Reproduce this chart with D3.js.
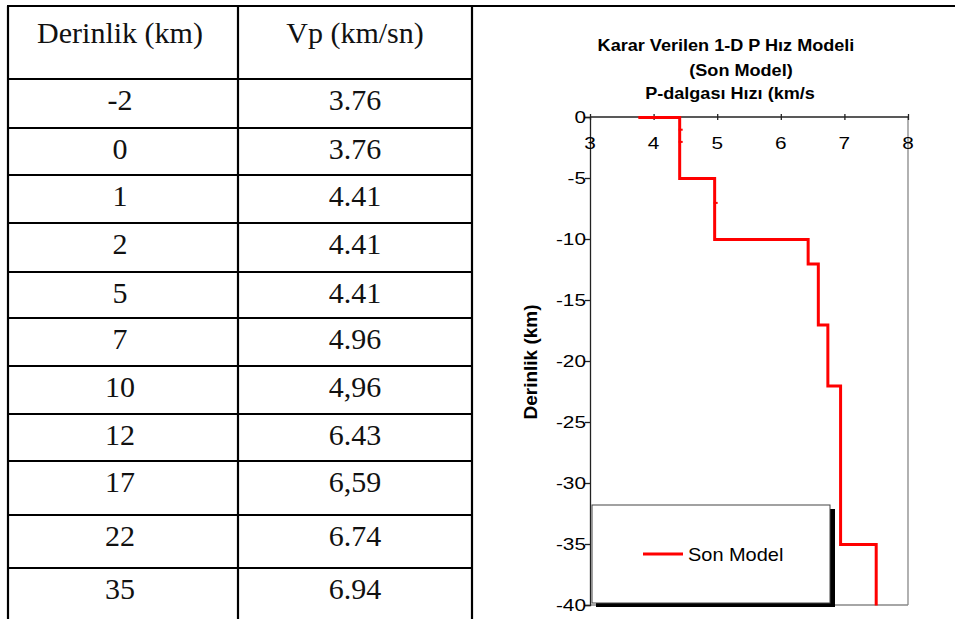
<!DOCTYPE html>
<html>
<head>
<meta charset="utf-8">
<script src="https://cdn.jsdelivr.net/npm/d3@7"></script>
<style>
  html, body { margin: 0; padding: 0; background: #fff; }
  svg { display: block; }
</style>
</head>
<body>
<svg id="chart" width="955" height="619"></svg>
<script>
// ---------------- data ----------------
const tableHeaders = ["Derinlik (km)", "Vp (km/sn)"];
const tableDepth = ["-2", "0", "1", "2", "5", "7", "10", "12", "17", "22", "35"];
const tableVp = ["3.76", "3.76", "4.41", "4.41", "4.41", "4.96", "4,96", "6.43", "6,59", "6.74", "6.94"];

const modelVp = [3.76, 4.41, 4.41, 4.41, 4.41, 4.96, 4.96, 4.96, 6.43, 6.43, 6.59, 6.59, 6.74, 6.74, 6.94, 6.94, 7.5, 7.5];
const modelDepth = [0, 0, -1, -2, -5, -5, -7, -10, -10, -12, -12, -17, -17, -22, -22, -35, -35, -40];

const xTicks = [3, 4, 5, 6, 7, 8];
const yTicks = [0, -5, -10, -15, -20, -25, -30, -35, -40];
const titleLines = ["Karar Verilen 1-D P Hız Modeli", "(Son Model)", "P-dalgası Hızı (km/s"];
const yAxisTitle = "Derinlik (km)";
const seriesName = "Son Model";

// ---------------- layout ----------------
const svg = d3.select("#chart");
const tableLeft = 8, colDiv = 238, tableRight = 472, tableTop = 6;
const rowLines = [79, 128, 175, 223, 272, 318, 366, 414, 461, 515, 568];
const serif = "'Liberation Serif', 'Times New Roman', serif";
const sans = "'Liberation Sans', Arial, sans-serif";

// ---------- table ----------
const tg = svg.append("g");
tg.append("line").attr("x1", tableLeft - 1).attr("x2", 955).attr("y1", tableTop).attr("y2", tableTop)
  .attr("stroke", "#000").attr("stroke-width", 2.2);
[tableLeft, colDiv, tableRight].forEach(x => {
  tg.append("line").attr("x1", x).attr("x2", x).attr("y1", tableTop).attr("y2", 619)
    .attr("stroke", "#000").attr("stroke-width", 2.2);
});
rowLines.forEach(y => {
  tg.append("line").attr("x1", tableLeft).attr("x2", tableRight).attr("y1", y).attr("y2", y)
    .attr("stroke", "#000").attr("stroke-width", 2.2);
});
const colCenters = [(tableLeft + colDiv) / 2 - 3, (colDiv + tableRight) / 2];
tableHeaders.forEach((h, i) => {
  tg.append("text").attr("x", colCenters[i]).attr("y", 43).attr("text-anchor", "middle")
    .attr("font-family", serif).attr("font-size", 30).attr("fill", "#111").text(h);
});
tableDepth.forEach((d, i) => {
  const top = rowLines[i];
  tg.append("text").attr("x", colCenters[0]).attr("y", top + 31).attr("text-anchor", "middle")
    .attr("font-family", serif).attr("font-size", 30).attr("fill", "#111").text(d);
  tg.append("text").attr("x", colCenters[1]).attr("y", top + 31).attr("text-anchor", "middle")
    .attr("font-family", serif).attr("font-size", 30).attr("fill", "#111").text(tableVp[i]);
});

// ---------- chart ----------
function stext(g, x, y, txt, o) {
  o = o || {};
  return g.append("text")
    .attr("transform", `translate(${x},${y}) scale(${o.sx || 1},1)`)
    .attr("text-anchor", o.anchor || "middle")
    .attr("font-family", sans)
    .attr("font-size", o.size || 13)
    .attr("font-weight", o.weight || "normal")
    .attr("fill", o.fill || "#000")
    .text(txt);
}

const x = d3.scaleLinear().domain([3, 8]).range([590, 908]);
const y = d3.scaleLinear().domain([0, -40]).range([117, 605]);
const cg = svg.append("g");

// titles
const titleX = [726, 741, 730], titleY = [51, 76, 99];
titleLines.forEach((t, i) => stext(cg, titleX[i], titleY[i], t, { size: 16, weight: "bold", sx: 1.13 }));

// plot frame (gray right/bottom)
cg.append("line").attr("x1", x(8)).attr("x2", x(8)).attr("y1", y(0)).attr("y2", y(-40))
  .attr("stroke", "#888").attr("stroke-width", 1.3);
cg.append("line").attr("x1", x(3)).attr("x2", x(8)).attr("y1", y(-40)).attr("y2", y(-40))
  .attr("stroke", "#888").attr("stroke-width", 1.3);

// y axis (left)
const yAxis = d3.axisLeft(y).tickValues(yTicks).tickSize(5);
const yg = cg.append("g").attr("transform", `translate(${x(3)},0)`).call(yAxis);
yg.select(".domain").attr("stroke", "#222").attr("stroke-width", 1.3);
yg.selectAll(".tick line").attr("stroke", "#222").attr("stroke-width", 1.3);
yg.selectAll(".tick text").remove();
yTicks.forEach(t => stext(cg, 586, y(t) + 6, String(t), { anchor: "end", size: 16, sx: 1.3 }));

// x axis (top at depth 0)
const xAxis = d3.axisBottom(x).tickValues(xTicks).tickSize(4);
const xg = cg.append("g").attr("transform", `translate(0,${y(0)})`).call(xAxis);
xg.select(".domain").attr("stroke", "#222").attr("stroke-width", 1.3).attr("d", `M${x(3)},0H${x(8)}`);
xg.selectAll(".tick line").attr("stroke", "#222").attr("stroke-width", 1.3).attr("y1", -3).attr("y2", 3);
xg.selectAll(".tick text").remove();
xTicks.forEach(t => stext(cg, x(t), y(0) + 32, String(t), { size: 16, sx: 1.3 }));

// series (drawn over the axes)
const pts = modelVp.map((v, i) => [v, modelDepth[i]]);
const line = d3.line().x(d => x(d[0])).y(d => y(d[1]));
cg.append("path").datum(pts).attr("d", line).attr("fill", "none")
  .attr("stroke", "#ff0000").attr("stroke-width", 3).attr("stroke-linejoin", "miter")
  .attr("transform", "translate(0,0.5)");
// small point markers on straight runs
const mids = pts.filter((p, i) => i > 0 && i < pts.length - 1 && pts[i - 1][0] === p[0] && pts[i + 1][0] === p[0]);
cg.selectAll("rect.mk").data(mids).join("rect").attr("class", "mk")
  .attr("x", d => x(d[0]) - 1).attr("y", d => y(d[1]) - 0.5).attr("width", 4).attr("height", 2)
  .attr("fill", "#ff0000");

// y axis title
cg.append("text")
  .attr("transform", `translate(537,362) rotate(-90)`)
  .attr("text-anchor", "middle")
  .attr("font-family", sans).attr("font-size", 19).attr("font-weight", "bold")
  .text(yAxisTitle);

// legend
const lg = cg.append("g");
lg.append("rect").attr("x", 596).attr("y", 509).attr("width", 239).attr("height", 98).attr("fill", "#000");
lg.append("rect").attr("x", 592).attr("y", 505).attr("width", 238).attr("height", 98)
  .attr("fill", "#fff").attr("stroke", "#444").attr("stroke-width", 1);
lg.append("line").attr("x1", 643).attr("x2", 683).attr("y1", 554).attr("y2", 554)
  .attr("stroke", "#ff0000").attr("stroke-width", 3);
stext(lg, 688, 561, seriesName, { anchor: "start", size: 19, sx: 1.05 });
</script>
</body>
</html>
